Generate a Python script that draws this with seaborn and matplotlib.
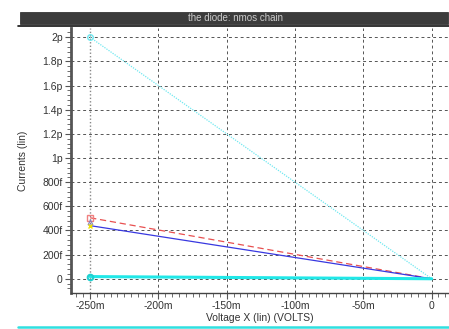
import numpy as np
import pandas as pd
import matplotlib
matplotlib.use("Agg")
import matplotlib.pyplot as plt
import matplotlib.ticker as mticker
from matplotlib.patches import Rectangle
from matplotlib.lines import Line2D
import seaborn as sns

# dados (volts, amperes)
voltage = [-0.25, 0.0]
i_cyan_dot = [2.0e-12, 0.0]
i_red_dash = [0.505e-12, 0.0]
i_blue = [0.44e-12, 0.0]
i_cyan_flat = [0.018e-12, 0.0]

x_ticks = [-0.25, -0.2, -0.15, -0.1, -0.05, 0.0]
x_labels = ["-250m", "-200m", "-150m", "-100m", "-50m", "0"]
y_ticks = [0, 200e-15, 400e-15, 600e-15, 800e-15, 1e-12, 1.2e-12, 1.4e-12, 1.6e-12, 1.8e-12, 2e-12]
y_labels = ["0", "200f", "400f", "600f", "800f", "1p", "1.2p", "1.4p", "1.6p", "1.8p", "2p"]

sns.set_style("white")
plt.rcParams['font.family'] = ['Liberation Sans', 'DejaVu Sans']

fig = plt.figure(figsize=(4.49, 3.29), dpi=100)
ax = fig.add_axes([71 / 449, 1 - 293 / 329, (449 - 71) / 449, (293 - 28) / 329])

df = pd.DataFrame({"V": voltage, "a": i_cyan_dot, "b": i_red_dash, "c": i_blue, "d": i_cyan_flat})

sns.lineplot(data=df, x="V", y="a", ax=ax, color="#6fe8f0", lw=0.9, linestyle=(0, (1, 1)))
sns.lineplot(data=df, x="V", y="b", ax=ax, color="#e85050", lw=0.9, linestyle=(0, (5, 3)))
sns.lineplot(data=df, x="V", y="c", ax=ax, color="#3838e0", lw=0.9)
sns.lineplot(data=df, x="V", y="d", ax=ax, color="#20e8e8", lw=2.2)

# marcadores no primeiro ponto
ax.plot(voltage[0], i_cyan_dot[0], "o", mfc="none", mec="#6fe8f0", ms=4, mew=1)
ax.plot(voltage[0], i_red_dash[0], "s", mfc="none", mec="#f08080", ms=4, mew=1)
ax.plot(voltage[0], 0.47e-12, "^", mfc="none", mec="#8080c0", ms=3.5, mew=0.8)
ax.plot(voltage[0], i_blue[0], "x", color="#f0e000", ms=3.5, mew=1)
ax.plot(voltage[0], i_cyan_flat[0], "o", mfc="none", mec="#20d0d0", ms=4, mew=1.5)

ax.set_xlim(-0.264, 0.0127)
ax.set_ylim(-0.118e-12, 2.077e-12)

ax.set_xticks(x_ticks)
ax.set_xticklabels(x_labels)
ax.set_yticks(y_ticks)
ax.set_yticklabels(y_labels)
ax.xaxis.set_minor_locator(mticker.MultipleLocator(0.005))
ax.yaxis.set_minor_locator(mticker.MultipleLocator(40e-15))

ax.tick_params(axis="both", which="both", bottom=True, left=True, top=False, right=False)
ax.tick_params(axis="both", which="major", labelsize=7.5, labelcolor="#333333",
               color="#555555", length=4, width=0.8, direction="out", pad=2)
ax.tick_params(axis="both", which="minor", color="#555555", length=3, width=0.6, direction="out")

ax.grid(True, which="major", color="#555555", lw=0.7, linestyle=(0, (3, 3)))
ax.xaxis.get_gridlines()[0].set_linestyle((0, (1, 1.5)))
ax.xaxis.get_gridlines()[0].set_color("#888888")
ax.xaxis.get_gridlines()[0].set_linewidth(1.0)

for s in ["top", "right"]:
    ax.spines[s].set_visible(False)
ax.spines["left"].set_color("#555555")
ax.spines["left"].set_linewidth(2)
ax.spines["bottom"].set_color("#444444")
ax.spines["bottom"].set_linewidth(1)

ax.set_xlabel("Voltage X (lin) (VOLTS)", fontsize=7.5, color="#333333", labelpad=1)
ax.set_ylabel("Currents (lin)", fontsize=7.5, color="#333333", labelpad=10)

# barra de título
fig.add_artist(Rectangle((20 / 449, 1 - 24 / 329), 428 / 449, 12 / 329,
                         transform=fig.transFigure, facecolor="#3c3c3c", edgecolor="#222222", lw=0.5))
fig.text(235 / 449, 1 - 18 / 329, "the diode: nmos chain", ha="center", va="center",
         fontsize=7, color="#cccccc")
fig.add_artist(Line2D([18 / 449, 1], [1 - 25.5 / 329] * 2, transform=fig.transFigure,
                      color="#111111", lw=1.2))
fig.add_artist(Line2D([18 / 449, 1], [1 - 326.5 / 329] * 2, transform=fig.transFigure,
                      color="#30e0e0", lw=1.8))

fig.savefig("out.png", dpi=100)
